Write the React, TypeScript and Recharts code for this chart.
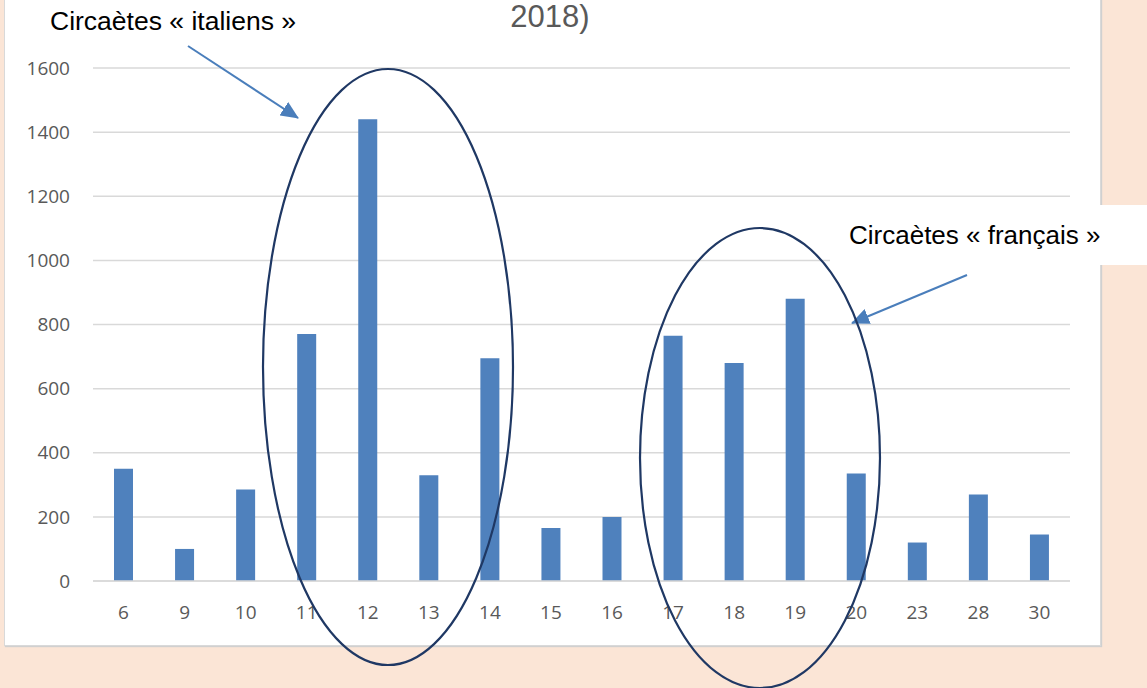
import { BarChart, Bar, XAxis, YAxis, CartesianGrid } from "recharts";

// jours du mois (axe X)
const jours = ["6", "9", "10", "11", "12", "13", "14", "15", "16", "17", "18", "19", "20", "23", "28", "30"];
// nombre de circaètes comptés
const effectifs = [350, 100, 285, 770, 1440, 330, 695, 165, 200, 765, 680, 880, 335, 120, 270, 145];
const graduations = [0, 200, 400, 600, 800, 1000, 1200, 1400, 1600];

const data = jours.map((jour, i) => ({ jour, effectif: effectifs[i] }));

const fontTicks = "'Open Sans', 'Liberation Sans', sans-serif";

const App = () => {
  return (
    <div
      style={{
        position: "absolute",
        top: 0,
        left: 0,
        width: 1147,
        height: 688,
        background: "#FBE5D6",
        overflow: "hidden",
      }}
    >
      {/* cadre blanc du graphique */}
      <div
        style={{
          position: "absolute",
          left: 4,
          top: -2,
          width: 1095,
          height: 646,
          background: "#FFFFFF",
          border: "1px solid #D9D9D9",
          boxShadow: "1px 1px 1px #D0D0D0",
        }}
      />
      <div style={{ position: "absolute", left: 5, top: 0 }}>
        <BarChart
          width={1095}
          height={645}
          data={data}
          margin={{ top: 68, right: 30, left: 0, bottom: 0 }}
        >
          <CartesianGrid vertical={false} stroke="#D9D9D9" strokeWidth={1.5} />
          <XAxis
            dataKey="jour"
            height={64}
            tickLine={false}
            tickSize={0}
            tickMargin={25}
            axisLine={{ stroke: "#D9D9D9", strokeWidth: 1.5 }}
            tick={{ fill: "#595959", fontSize: 19, fontFamily: fontTicks }}
            interval={0}
          />
          <YAxis
            width={88}
            domain={[0, 1600]}
            ticks={graduations}
            axisLine={false}
            tickLine={false}
            tickSize={0}
            tickMargin={23}
            tick={{ fill: "#595959", fontSize: 19, fontFamily: fontTicks }}
          />
          <Bar dataKey="effectif" fill="#4F81BD" barSize={19} isAnimationActive={false} />
        </BarChart>
      </div>
      {/* annotations : titre coupé, ellipses, flèches et légendes */}
      <svg
        width={1147}
        height={688}
        style={{ position: "absolute", left: 0, top: 0, pointerEvents: "none" }}
      >
        <defs>
          <marker id="fleche" markerWidth="18" markerHeight="16" refX="17" refY="8" orient="auto" markerUnits="userSpaceOnUse">
            <path d="M0,0 L18,8 L0,16 z" fill="#4A7EBB" />
          </marker>
        </defs>
        <text x={550} y={27} textAnchor="middle" fill="#595959" fontSize={31} fontFamily="'Liberation Sans', sans-serif">
          2018)
        </text>
        <text x={50} y={30} fill="#000000" fontSize={26.5} fontFamily="'Liberation Sans', sans-serif">
          Circaètes « italiens »
        </text>
        <line x1={188} y1={46} x2={298} y2={118} stroke="#4A7EBB" strokeWidth={2} markerEnd="url(#fleche)" />
        <ellipse cx={388} cy={367} rx={125} ry={298} fill="none" stroke="#1F3864" strokeWidth={2.2} />

        <rect x={830} y={205} width={317} height={60} fill="#FFFFFF" />
        <text x={849} y={244} fill="#000000" fontSize={26} fontFamily="'Liberation Sans', sans-serif">
          Circaètes « français »
        </text>
        <line x1={967} y1={275} x2={852} y2={323} stroke="#4A7EBB" strokeWidth={2} markerEnd="url(#fleche)" />
        <ellipse cx={760} cy={458} rx={120} ry={230} fill="none" stroke="#1F3864" strokeWidth={2.2} />
      </svg>
    </div>
  );
};

export default App;
